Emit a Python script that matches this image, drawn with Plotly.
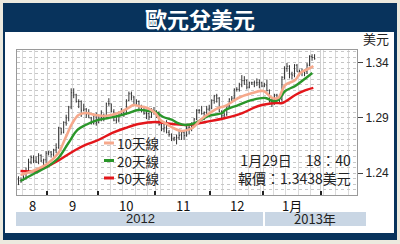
import plotly.graph_objects as go
import pandas as pd

# ---------------- data ----------------
START, END = "2012-08-16", "2013-01-29"
dates = pd.bdate_range(START, END)          # trading days shown (119)
axis_days = pd.bdate_range(START, "2013-02-28")

opens = [1.2340,1.2330,1.2340,1.2350,1.2420,1.2500,1.2540,1.2510,1.2500,1.2560,1.2510,1.2520,
         1.2580,1.2590,1.2570,1.2610,1.2630,1.2810,1.2770,1.2860,1.2900,1.3000,1.3130,1.3110,1.3050,1.3050,1.2970,1.2980,1.2930,1.2900,1.2850,1.2920,
         1.2860,1.2900,1.2910,1.2900,1.3030,1.3030,1.2960,1.2880,1.2880,1.2940,1.2950,1.2940,1.3060,1.3120,1.3090,1.3020,1.3050,1.2970,1.2970,1.2940,1.2940,1.2910,1.2970,
         1.2960,1.2950,1.2840,1.2800,1.2810,1.2770,1.2750,1.2710,1.2720,1.2720,1.2740,1.2770,1.2740,1.2810,1.2810,1.2830,1.2890,1.2970,1.2970,1.2940,1.2950,1.2980,
         1.2990,1.3060,1.3100,1.3080,1.2960,1.2920,1.2930,1.3010,1.3070,1.3080,1.3160,1.3160,1.3200,1.3240,1.3240,1.3180,1.3220,1.3220,1.3220,1.3220,1.3220,
         1.3190,1.3200,1.3150,1.3050,1.3070,1.3110,1.3080,1.3070,1.3270,1.3350,1.3370,1.3300,1.3290,1.3380,1.3320,1.3320,1.3320,1.3320,1.3380,1.3460,1.3450]
highs = [1.2370,1.2360,1.2380,1.2450,1.2530,1.2560,1.2560,1.2550,1.2580,1.2570,1.2530,1.2600,
         1.2600,1.2600,1.2620,1.2670,1.2820,1.2810,1.2870,1.2930,1.3010,1.3170,1.3170,1.3120,1.3070,1.3060,1.3030,1.2990,1.2980,1.2910,1.2940,1.2950,
         1.2930,1.2970,1.2940,1.3040,1.3080,1.3030,1.2980,1.2910,1.2960,1.2990,1.2970,1.3070,1.3140,1.3140,1.3100,1.3070,1.3060,1.3020,1.3010,1.2970,1.2950,1.2990,1.3000,
         1.2970,1.2960,1.2850,1.2850,1.2880,1.2790,1.2760,1.2730,1.2750,1.2790,1.2780,1.2780,1.2830,1.2830,1.2860,1.2900,1.2980,1.2980,1.3010,1.2960,1.3010,1.3020,
         1.3070,1.3110,1.3120,1.3090,1.2970,1.2950,1.3020,1.3080,1.3100,1.3170,1.3180,1.3220,1.3290,1.3280,1.3250,1.3230,1.3230,1.3240,1.3260,1.3250,1.3230,
         1.3220,1.3250,1.3160,1.3080,1.3120,1.3120,1.3100,1.3280,1.3370,1.3400,1.3380,1.3320,1.3390,1.3390,1.3340,1.3350,1.3340,1.3400,1.3470,1.3480,1.3480]
lows = [1.2290,1.2310,1.2330,1.2340,1.2400,1.2480,1.2490,1.2490,1.2480,1.2500,1.2470,1.2490,
        1.2560,1.2540,1.2550,1.2580,1.2620,1.2750,1.2760,1.2830,1.2870,1.2980,1.3080,1.3040,1.2990,1.2910,1.2960,1.2900,1.2900,1.2840,1.2840,1.2830,
        1.2850,1.2870,1.2870,1.2890,1.3010,1.2950,1.2870,1.2850,1.2860,1.2920,1.2910,1.2930,1.3050,1.3060,1.3010,1.3010,1.2960,1.2950,1.2930,1.2890,1.2880,1.2900,1.2930,
        1.2900,1.2830,1.2780,1.2770,1.2760,1.2730,1.2690,1.2690,1.2660,1.2700,1.2700,1.2700,1.2730,1.2750,1.2780,1.2820,1.2880,1.2940,1.2930,1.2880,1.2930,1.2960,
        1.2980,1.3030,1.3040,1.2950,1.2880,1.2890,1.2920,1.2990,1.3040,1.3060,1.3140,1.3140,1.3180,1.3200,1.3160,1.3170,1.3200,1.3180,1.3190,1.3170,1.3180,
        1.3180,1.3140,1.3040,1.3000,1.3020,1.3060,1.3030,1.3050,1.3250,1.3320,1.3260,1.3250,1.3270,1.3320,1.3280,1.3280,1.3280,1.3300,1.3370,1.3420,1.3430]
closes = [1.2330,1.2340,1.2350,1.2420,1.2500,1.2540,1.2510,1.2500,1.2560,1.2510,1.2520,1.2580,
          1.2590,1.2570,1.2610,1.2630,1.2810,1.2770,1.2860,1.2900,1.3000,1.3130,1.3110,1.3050,1.3050,1.2970,1.2980,1.2930,1.2900,1.2850,1.2920,1.2860,
          1.2900,1.2910,1.2900,1.3030,1.3030,1.2960,1.2880,1.2880,1.2940,1.2950,1.2940,1.3060,1.3120,1.3090,1.3020,1.3050,1.2970,1.2970,1.2940,1.2940,1.2910,1.2970,1.2960,
          1.2950,1.2840,1.2800,1.2810,1.2770,1.2750,1.2710,1.2720,1.2720,1.2740,1.2770,1.2740,1.2810,1.2810,1.2830,1.2890,1.2970,1.2970,1.2940,1.2950,1.2980,1.2990,
          1.3060,1.3100,1.3080,1.2960,1.2920,1.2930,1.3010,1.3070,1.3080,1.3160,1.3160,1.3200,1.3240,1.3240,1.3180,1.3220,1.3220,1.3220,1.3220,1.3220,1.3190,
          1.3200,1.3150,1.3050,1.3070,1.3110,1.3080,1.3070,1.3270,1.3350,1.3370,1.3300,1.3290,1.3380,1.3320,1.3320,1.3320,1.3320,1.3380,1.3460,1.3450,1.3438]

# moving averages (trading-day index, value)
ma10_idx = [0.8,6.7,11.9,15.9,18.7,21.5,23.9,26.7,30.6,34.6,39.8,43.8,45.8,47.8,51.4,54.5,56.5,59.7,61.7,65.3,69.3,72.5,74.5,79.6,82.4,87.6,93.2,97.6,101.2,103.5,106.3,110.3,112.3,116.3,117.5]
ma10_val = [1.2382,1.2427,1.2491,1.2582,1.2718,1.2855,1.2927,1.2945,1.2927,1.2918,1.2945,1.2991,1.3018,1.3009,1.2991,1.2945,1.2882,1.2836,1.2809,1.2782,1.2809,1.2882,1.2918,1.2991,1.3009,1.3082,1.3127,1.3145,1.3082,1.3082,1.3200,1.3245,1.3309,1.3355,1.3373]
ma20_idx = [0.8,6.7,11.9,15.9,19.9,23.5,26.7,31.8,35.8,39.8,43.8,47.8,51.8,54.5,57.7,61.4,63.3,66.5,70.5,75.6,81.2,82.4,87.6,93.2,98.4,101.2,103.5,106.3,110.3,113.5,117.1]
ma20_val = [1.2327,1.2400,1.2464,1.2536,1.2673,1.2791,1.2836,1.2882,1.2900,1.2918,1.2945,1.2973,1.2964,1.2955,1.2909,1.2882,1.2855,1.2836,1.2855,1.2918,1.2945,1.2973,1.3018,1.3064,1.3082,1.3055,1.3064,1.3145,1.3191,1.3245,1.3309]
ma50_idx = [0.8,6.7,11.9,17.5,22.7,26.7,31.8,37.4,42.6,47.8,54.5,61.4,67.7,74.5,82.4,89.2,95.6,102.4,105.1,110.3,113.5,117.5]
ma50_val = [1.2418,1.2418,1.2464,1.2536,1.2609,1.2655,1.2700,1.2764,1.2809,1.2845,1.2864,1.2845,1.2836,1.2864,1.2900,1.2945,1.3009,1.3036,1.3036,1.3109,1.3145,1.3173]

ma_names = ["10天線", "20天線", "50天線"]
ma_colors = ["#f6a98c", "#2a962a", "#e3161b"]
y_ticks = [1.24, 1.29, 1.34]
month_names = ["8", "9", "10", "11", "12", "1月"]
years = ["2012", "2013年"]
title = "歐元兌美元"
unit = "美元"
stamp_time = "1月29日　18：40"
stamp_quote = "報價：1.3438美元"

# ---------------- layout helpers ----------------
W, H = 400, 244
ML, MR, MT, MB = 17, 43, 50, 49
PW, PH = W - ML - MR, H - MT - MB
def px(x): return (x - ML) / PW
def py(y): return (H - MB - y) / PH

NAVY = "#08335c"
FONT = "Liberation Sans, Arial, Noto Sans CJK TC"
CJK = "Noto Sans CJK TC, Liberation Sans"

xi = list(range(len(dates)))
ax_idx = list(range(len(axis_days)))
bounds = [i - 0.5 for i in ax_idx[1:] if axis_days[i].month != axis_days[i - 1].month]
month_pos = []
for m in [8, 9, 10, 11, 12, 1]:
    ii = [i for i in ax_idx if axis_days[i].month == m and (m != 1 or axis_days[i].year == 2013)]
    month_pos.append((ii[0] + ii[-1]) / 2)

fig = go.Figure()
fig.add_trace(go.Ohlc(x=xi, open=opens, high=highs, low=lows, close=closes,
                      increasing=dict(line=dict(color="#333333", width=1)),
                      decreasing=dict(line=dict(color="#333333", width=1)),
                      tickwidth=0.3, showlegend=False, hoverinfo="skip"))
for idx, val, col, w in [(ma50_idx, ma50_val, ma_colors[2], 2.4),
                         (ma20_idx, ma20_val, ma_colors[1], 2.4),
                         (ma10_idx, ma10_val, ma_colors[0], 2.6)]:
    fig.add_trace(go.Scatter(x=idx, y=val, mode="lines",
                             line=dict(color=col, width=w, shape="spline", smoothing=1.0),
                             showlegend=False, hoverinfo="skip"))

shapes = [
    dict(type="rect", xref="paper", yref="paper", x0=px(3), x1=px(397), y0=py(240), y1=py(3),
         fillcolor=NAVY, line=dict(width=0), layer="below"),
    dict(type="rect", xref="paper", yref="paper", x0=px(5), x1=px(394), y0=py(233), y1=py(32),
         fillcolor="white", line=dict(width=0), layer="below"),
    dict(type="rect", xref="paper", yref="paper", x0=px(16), x1=px(263), y0=py(226), y1=py(212),
         fillcolor="#c9d6e4", line=dict(width=0), layer="below"),
    dict(type="rect", xref="paper", yref="paper", x0=px(265), x1=px(366), y0=py(226), y1=py(212),
         fillcolor="#c9d6e4", line=dict(width=0), layer="below"),
]
leg_rows = [143, 160.5, 178]
for k, col in enumerate(ma_colors):
    yy = leg_rows[k]
    shapes.append(dict(type="line", xref="paper", yref="paper", x0=px(104), x1=px(114),
                       y0=py(yy), y1=py(yy), line=dict(color=col, width=3), layer="above"))

ann = [
    dict(text="<b>%s</b>" % title, x=px(200), y=py(17.5), font=dict(size=22, color="white", family=CJK)),
    dict(text=unit, x=px(376), y=py(38), font=dict(size=13, color="#222", family=CJK)),
    dict(text=years[0], x=px(140), y=py(219), font=dict(size=13, color="#222", family=FONT)),
    dict(text=years[1], x=px(315), y=py(219), font=dict(size=13, color="#222", family=CJK)),
    dict(text=stamp_time + "<br>" + stamp_quote, x=px(353), y=py(168.5), xanchor="right", align="right",
         font=dict(size=14, color="#222", family=CJK)),
    dict(text="<br>".join(ma_names), x=px(115), y=py(160.5), xanchor="left", align="left",
         font=dict(size=13.5, color="#222", family=CJK)),
]
for name, pos in zip(month_names, month_pos):
    ann.append(dict(text=name, x=pos, xref="x", y=py(205), font=dict(size=13, color="#111", family=CJK)))
for a in ann:
    a.setdefault("xref", "paper")
    a.setdefault("yref", "paper")
    a.setdefault("xanchor", "center")
    a["yanchor"] = "middle"
    a["showarrow"] = False

x_lo = -0.6
x_hi = x_lo + PW / 2.509
fig.update_layout(
    width=W, height=H, margin=dict(l=ML, r=MR, t=MT, b=MB, pad=0),
    paper_bgcolor="#eceadf", plot_bgcolor="rgba(0,0,0,0)",
    shapes=shapes, annotations=ann, showlegend=False,
    xaxis=dict(range=[x_lo, x_hi], tickvals=bounds, ticktext=[""] * len(bounds),
               ticks="inside", ticklen=4, tickcolor="#222", tickwidth=1.5,
               showgrid=True, gridcolor="#cfcfcf", gridwidth=1,
               minor=dict(tickmode="linear", tick0=1.5, dtick=5, showgrid=True,
                          gridcolor="#dadada", gridwidth=1, ticks=""),
               showline=True, mirror=True, linecolor="#9a9a9a", linewidth=1,
               zeroline=False, rangeslider=dict(visible=False), fixedrange=True),
    yaxis=dict(range=[1.2200, 1.3518], side="right", tickvals=y_ticks,
               ticktext=["%.2f" % v for v in y_ticks], ticks="outside", ticklen=5,
               tickcolor="#444", tickfont=dict(size=12, color="#222", family=FONT),
               showgrid=True, gridcolor="#c4c4c4", griddash="dot",
               minor=dict(tickmode="linear", tick0=1.24, dtick=0.005, showgrid=True,
                          gridcolor="#c8c8c8", griddash="dot", ticks=""),
               showline=True, mirror=True, linecolor="#9a9a9a", linewidth=1,
               zeroline=False, fixedrange=True),
)
fig.write_html("out.html")
